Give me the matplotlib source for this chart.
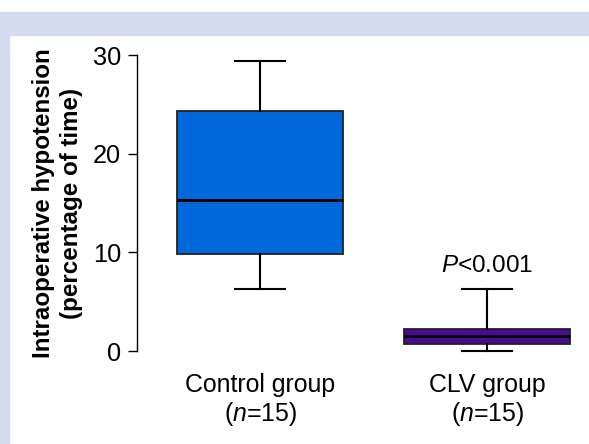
import matplotlib.pyplot as plt
from matplotlib.patches import Rectangle

plt.rcParams['font.family'] = ['Liberation Sans', 'DejaVu Sans']
plt.rcParams['mathtext.fontset'] = 'custom'
plt.rcParams['mathtext.rm'] = 'Liberation Sans'
plt.rcParams['mathtext.it'] = 'Liberation Sans:italic'

# box statistics (% of time)
groups = ["Control group\n($\\it{n}$=15)", "CLV group\n($\\it{n}$=15)"]
whislo = [6.3, 0.0]
q1 = [9.8, 0.7]
med = [15.3, 1.5]
q3 = [24.3, 2.2]
whishi = [29.4, 6.3]
colors = ["#0068DA", "#4B0A96"]
p_text = "$\\it{P}$<0.001"

fig = plt.figure(figsize=(5.89, 4.44), dpi=100)
band = "#D3DCEE"
fig.patches.append(Rectangle((0, 1 - 35 / 444), 1, 23 / 444, transform=fig.transFigure,
                             color=band, zorder=0))
fig.patches.append(Rectangle((0, 0), 9 / 589, 1 - 35 / 444, transform=fig.transFigure,
                             color=band, zorder=0))

ax = fig.add_axes([137 / 589, 1 - 351 / 444, 1 - 137 / 589, 296 / 444])
ax.patch.set_alpha(0)

stats = []
for i in range(len(groups)):
    stats.append(dict(whislo=whislo[i], q1=q1[i], med=med[i], q3=q3[i],
                      whishi=whishi[i], fliers=[]))

bp = ax.bxp(stats, positions=[1, 2], widths=0.73, patch_artist=True,
            showfliers=False,
            boxprops=dict(linewidth=1.3, edgecolor="#222222"),
            medianprops=dict(color="black", linewidth=2.1),
            whiskerprops=dict(color="black", linewidth=1.5),
            capprops=dict(color="black", linewidth=1.5), capwidths=0.22)
for patch, c in zip(bp["boxes"], colors):
    patch.set_facecolor(c)
for k in ("whiskers", "caps", "boxes", "medians"):
    for a in bp[k]:
        a.set_clip_on(False)

ax.text(2, 7.5, p_text, ha="center", va="bottom", fontsize=17.5)

ax.set_ylim(0, 30)
ax.set_xlim(0.458, 2.449)
ax.set_yticks([0, 10, 20, 30])
ax.set_xticks([1, 2])
ax.set_xticklabels(groups, fontsize=17.9, linespacing=1.15)
ax.tick_params(axis="x", length=0, pad=16)
ax.tick_params(axis="y", length=6.5, width=1, pad=5, labelsize=18.3)
for s in ("top", "right", "bottom"):
    ax.spines[s].set_visible(False)
ax.spines["left"].set_linewidth(1)
ax.set_ylabel("Intraoperative hypotension\n(percentage of time)", fontsize=17.4,
              fontweight="bold", linespacing=1.3)
ax.yaxis.set_label_coords(-54 / 452, 0.5)

fig.savefig("out.png", dpi=100)
